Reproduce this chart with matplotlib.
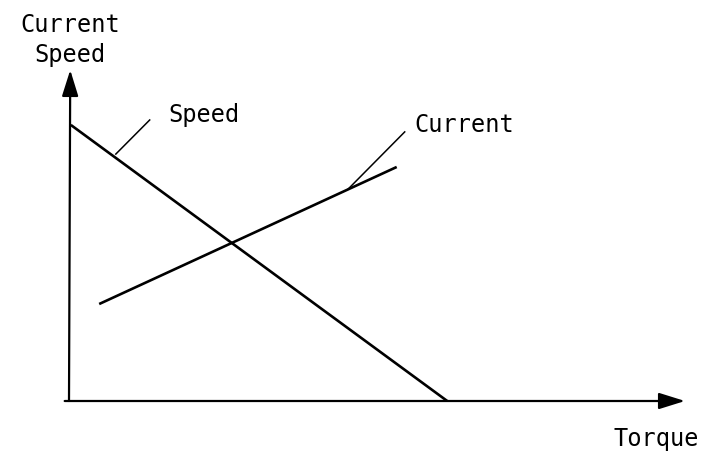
import matplotlib
matplotlib.use("Agg")
import matplotlib.pyplot as plt

# Schematic motor characteristic: speed and current against torque
speed_torque = [0.03, 6.14]
speed_value = [8.34, 0.0]

current_torque = [0.49, 5.32]
current_value = [2.93, 7.07]

# leader lines (start on curve, end near label)
speed_leader_x = [0.76, 1.31]
speed_leader_y = [7.46, 8.49]
current_leader_x = [4.53, 5.45]
current_leader_y = [6.40, 8.13]

W, H = 703, 455
fig = plt.figure(figsize=(W / 100, H / 100), dpi=100)

# axes placed so the data origin sits at the drawn origin
left, bottom, right, top = 69, 401, 685, 70
ax = fig.add_axes([left / W, (H - bottom) / H, (right - left) / W, (bottom - top) / H])
ax.set_xlim(0, 10)
ax.set_ylim(0, 10)
ax.axis("off")

# Axes with arrows:
arrow = dict(arrowstyle="-|>,head_length=0.8,head_width=0.25", mutation_scale=20,
             color="black", lw=1.6, shrinkA=0, shrinkB=0)
ax.annotate("", xy=(10, 0), xytext=(-0.07, 0), arrowprops=arrow, annotation_clip=False)
ax.annotate("", xy=(0.02, 10), xytext=(0, 0), arrowprops=arrow, annotation_clip=False)

# Curves:
ax.plot(speed_torque, speed_value, color="black", lw=1.9, solid_capstyle="butt")
ax.plot(current_torque, current_value, color="black", lw=1.9, solid_capstyle="butt")

# Leaders:
ax.plot(speed_leader_x, speed_leader_y, color="black", lw=1.1)
ax.plot(current_leader_x, current_leader_y, color="black", lw=1.1)

# Labels:
font = dict(family="DejaVu Sans Mono", fontsize=17, color="black")
ax.text(1.62, 8.64, "Speed", ha="left", va="center", **font)
ax.text(5.6, 8.35, "Current", ha="left", va="center", **font)

fig.text(70 / W, 1 - 13 / H, "Current\nSpeed", ha="center", va="top",
         multialignment="center", linespacing=1.3, **font)
fig.text(699 / W, 1 - 446 / H, "Torque", ha="right", va="baseline", **font)

plt.savefig("out.png", dpi=100)
plt.close()
